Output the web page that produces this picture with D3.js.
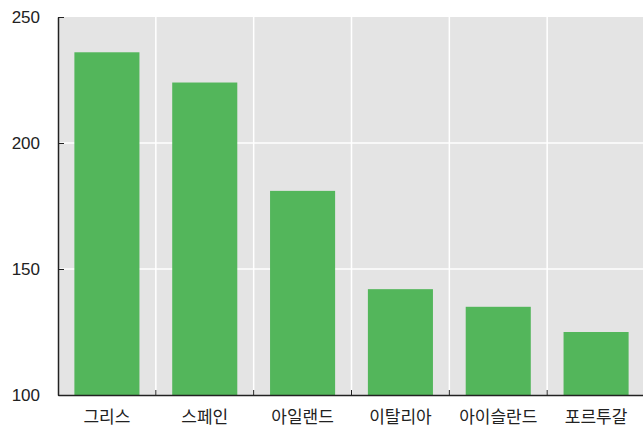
<!DOCTYPE html>
<meta charset="utf-8">
<style>
body { margin: 0; background: #fff; }
text { font-family: "Noto Sans CJK KR", "Noto Sans", sans-serif; fill: #222; }
</style>
<body>
<script src="https://d3js.org/d3.v7.min.js"></script>
<script>
// data
var countries = ["그리스", "스페인", "아일랜드", "이탈리아", "아이슬란드", "포르투갈"];
var values = [236, 224, 181, 142, 135, 125];
var yTicks = [100, 150, 200, 250];

var margin = {top: 17, right: -2, bottom: 34, left: 58},
    width = 643 - margin.left - margin.right,
    height = 429 - margin.top - margin.bottom;

var svg = d3.select("body").append("svg")
    .attr("width", 643)
    .attr("height", 429)
  .append("g")
    .attr("transform", "translate(" + margin.left + "," + margin.top + ")");

var x = d3.scaleBand().domain(countries).range([0, width])
    .paddingInner(0.335).paddingOuter(0.1675);
var y = d3.scaleLinear().domain([100, 250]).range([height, 0]);

// background
svg.append("rect")
    .attr("width", width).attr("height", height)
    .attr("fill", "#e4e4e4");

// horizontal grid
svg.selectAll(".hgrid").data(yTicks.slice(1, 3)).enter().append("line")
    .attr("x1", 0).attr("x2", width)
    .attr("y1", function(d) { return y(d); })
    .attr("y2", function(d) { return y(d); })
    .attr("stroke", "#fff").attr("stroke-width", 1.5);

// vertical grid at band boundaries
var bounds = countries.slice(1).map(function(d) { return x(d) - x.step() * x.paddingInner() / 2; });
svg.selectAll(".vgrid").data(bounds).enter().append("line")
    .attr("x1", function(d) { return d; }).attr("x2", function(d) { return d; })
    .attr("y1", 0).attr("y2", height)
    .attr("stroke", "#fff").attr("stroke-width", 1.5);

// bars
svg.selectAll(".bar").data(values).enter().append("rect")
    .attr("x", function(d, i) { return x(countries[i]); })
    .attr("y", function(d) { return y(d); })
    .attr("width", x.bandwidth())
    .attr("height", function(d) { return height - y(d); })
    .attr("fill", "#53b65b");

// y axis
var yAxis = svg.append("g")
    .call(d3.axisLeft(y).tickValues(yTicks).tickSizeInner(-6).tickSizeOuter(0).tickPadding(18));
yAxis.select(".domain").attr("stroke", "#222").attr("stroke-width", 1.5);
yAxis.selectAll(".tick line").attr("stroke", "#222");
yAxis.selectAll("text")
    .style("font-family", "'Liberation Sans', Arial, sans-serif")
    .style("font-size", "17px").attr("fill", "#222");

// x axis
var xAxis = svg.append("g")
    .attr("transform", "translate(0," + height + ")")
    .call(d3.axisBottom(x).tickSize(0).tickPadding(16));
xAxis.select(".domain").attr("stroke", "#222").attr("stroke-width", 1.5);
xAxis.selectAll("text").style("font-size", "17px").attr("fill", "#222");

// small ticks at band boundaries
xAxis.selectAll(".btick").data(bounds).enter().append("line")
    .attr("x1", function(d) { return d; }).attr("x2", function(d) { return d; })
    .attr("y1", 0).attr("y2", -5)
    .attr("stroke", "#222");
</script>
</body>
